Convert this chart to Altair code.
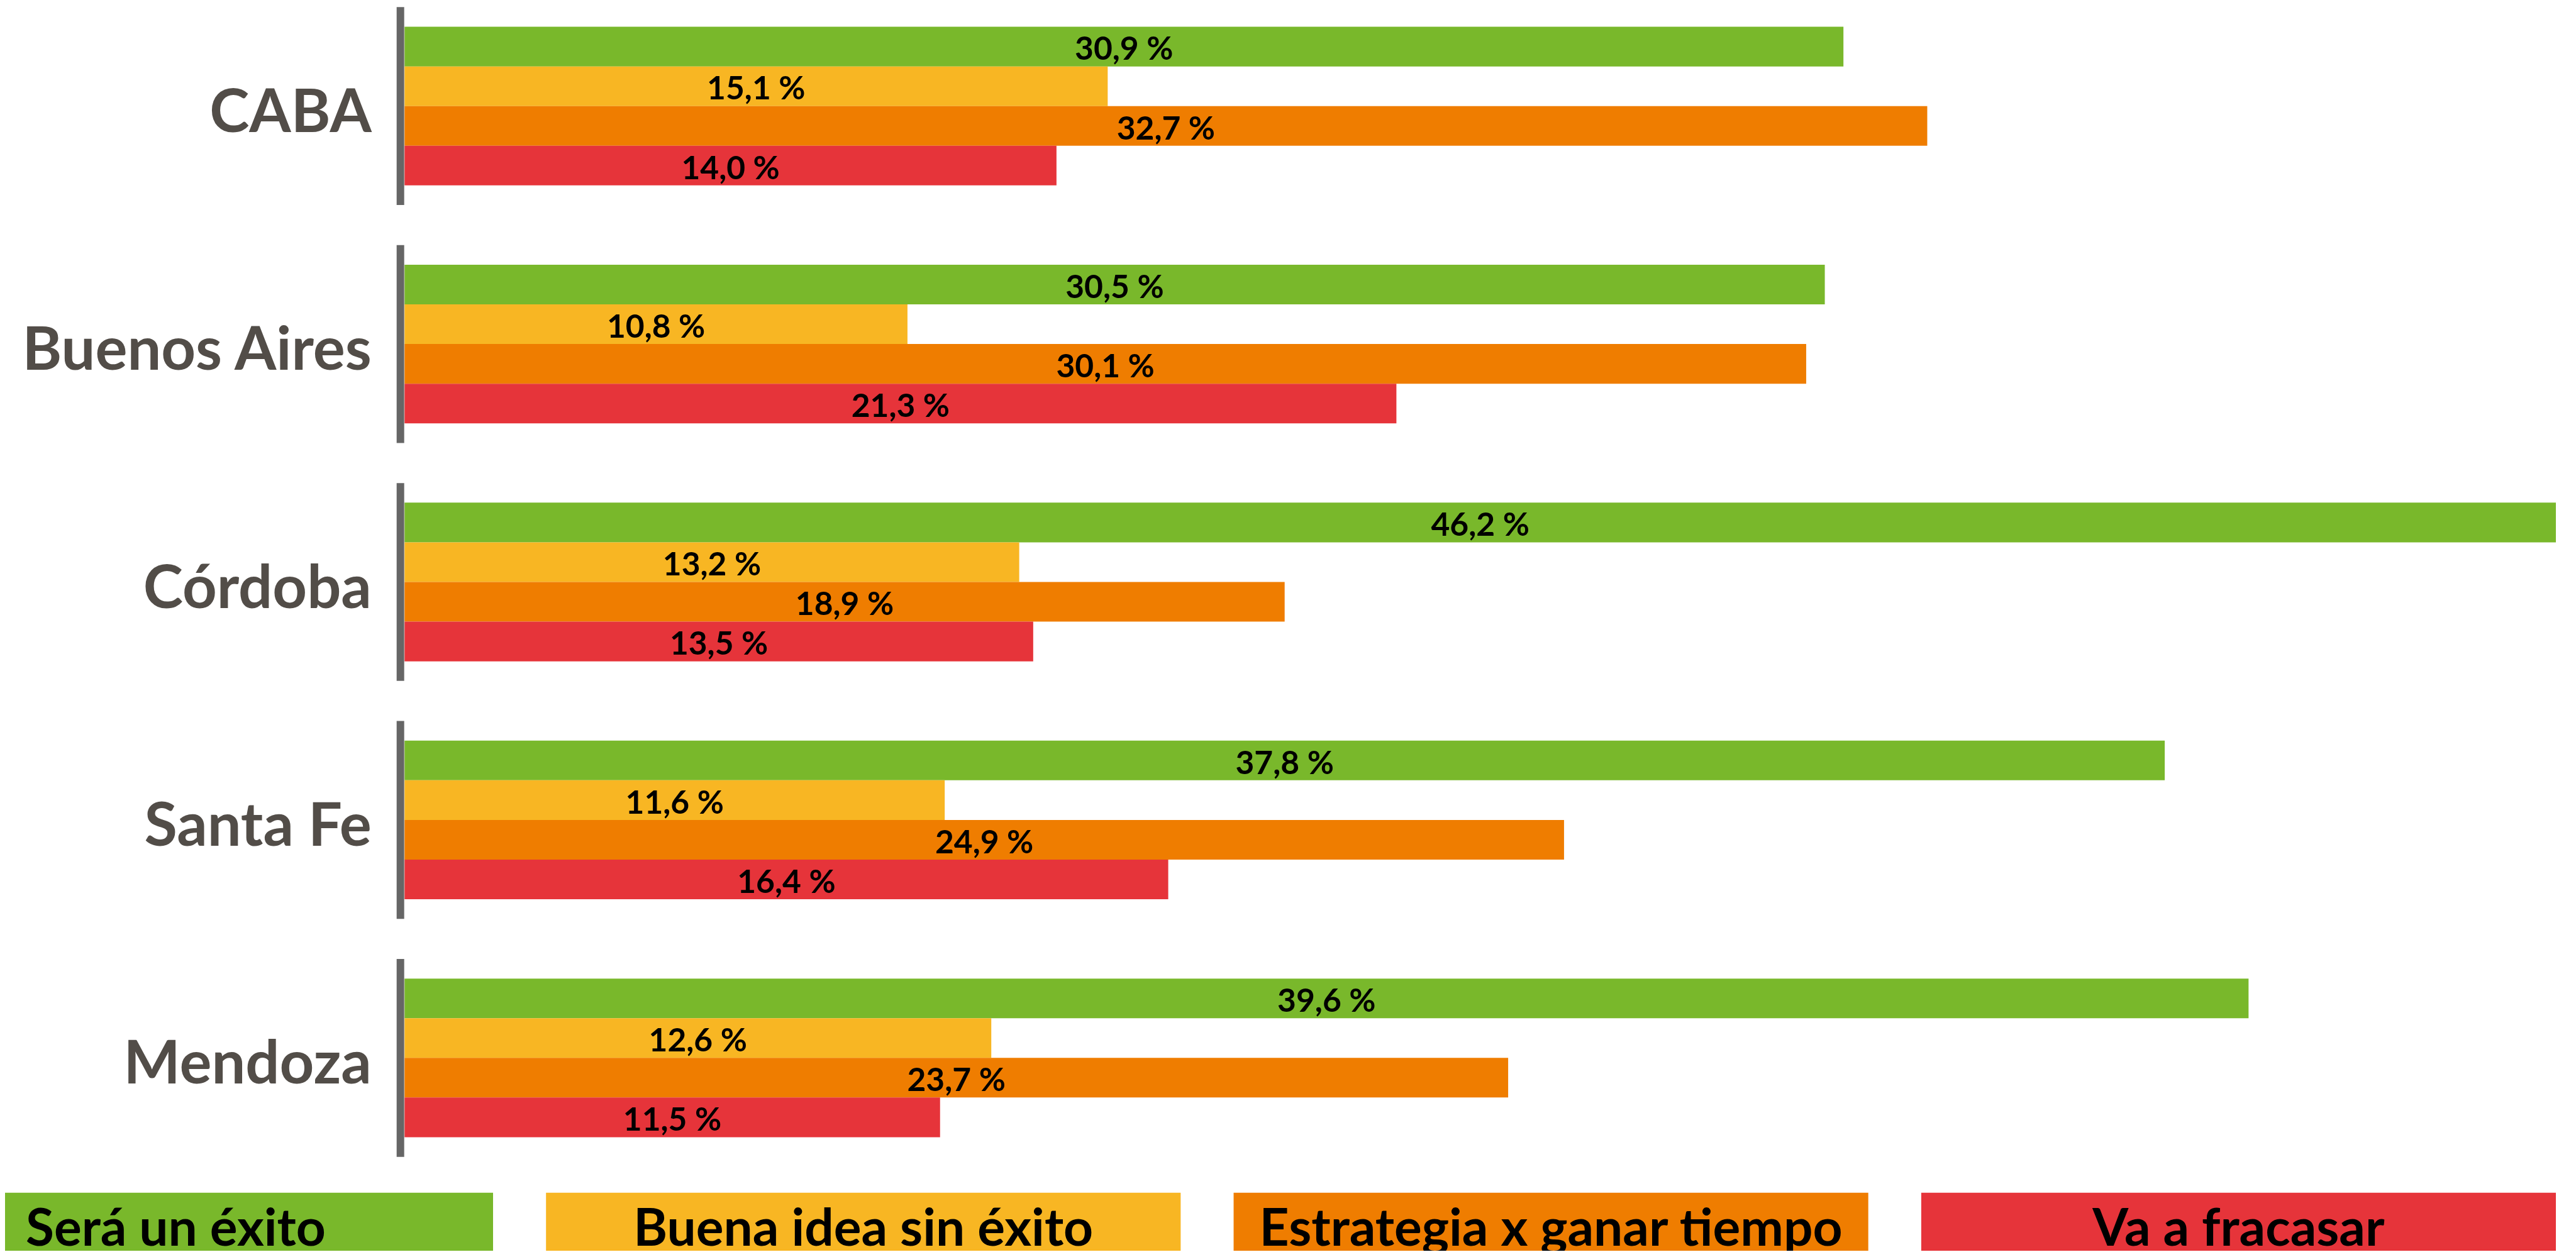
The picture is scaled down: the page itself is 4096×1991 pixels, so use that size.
import altair as alt
import pandas as pd

# ---- data ----
provincias = ["CABA", "Buenos Aires", "Córdoba", "Santa Fe", "Mendoza"]
series = ["Será un éxito", "Buena idea sin éxito", "Estrategia x ganar tiempo", "Va a fracasar"]
colores = ["#79B82B", "#F8B623", "#EF7D00", "#E6343A"]
exito = [30.9, 30.5, 46.2, 37.8, 39.6]
buena_idea = [15.1, 10.8, 13.2, 11.6, 12.6]
estrategia = [32.7, 30.1, 18.9, 24.9, 23.7]
fracasar = [14.0, 21.3, 13.5, 16.4, 11.5]

valores = [exito, buena_idea, estrategia, fracasar]
rows = []
for s, vals in zip(series, valores):
    for p, v in zip(provincias, vals):
        rows.append({"Provincia": p, "Serie": s, "Valor": v,
                     "Etiqueta": f"{v:.1f}".replace(".", ",") + " %"})
df = pd.DataFrame(rows)
df_prov = pd.DataFrame({"Provincia": provincias})
df_leg = pd.DataFrame({"Serie": series, "fila": ["leyenda"] * len(series)})

# ---- geometry (reference px * S) ----
S = 0.946
M = 8
L = 680 * S - M
T = 45 * S - M
W = (4296 - 680) * S
step = 400 * S
H = step * (5 - 1 / 3)
total_w = 4076
total_h = 1981
pad = {"left": L, "top": T, "right": total_w - L - W, "bottom": total_h - T - H}

FONT = "Lato"

xscale = alt.Scale(domain=[0, 46.2], nice=False, zero=True)
yscale = alt.Scale(domain=provincias, paddingInner=1 / 3, paddingOuter=0)
yaxis = alt.Axis(title=None, domain=False, ticks=False, tickSize=0, grid=False,
                 labelPadding=(680 - 624) * S, labelFont=FONT,
                 labelFontWeight="bold", labelFontSize=95.5,
                 labelColor="#524D48", labelBaseline="alphabetic",
                 labelOffset=41, labelLimit=2000)
color = alt.Color("Serie:N", scale=alt.Scale(domain=series, range=colores), legend=None)
yoff = alt.YOffset("Serie:N", sort=series,
                   scale=alt.Scale(domain=series, paddingInner=0, paddingOuter=0))

bars = alt.Chart(df).mark_bar().encode(
    x=alt.X("Valor:Q", scale=xscale, axis=None),
    y=alt.Y("Provincia:N", sort=provincias, scale=yscale, axis=yaxis),
    yOffset=yoff,
    color=color,
)

texts = alt.Chart(df).transform_calculate(mitad="datum.Valor / 2").mark_text(
    font=FONT, fontWeight="bold", fontSize=51.5, color="#000000",
    baseline="alphabetic", align="center", dy=21.3,
).encode(
    x=alt.X("mitad:Q", scale=xscale, axis=None),
    y=alt.Y("Provincia:N", sort=provincias, scale=yscale, axis=yaxis),
    yOffset=yoff,
    text="Etiqueta:N",
)

lines = alt.Chart(df_prov).mark_rule(
    color="#666666", strokeWidth=12, xOffset=-6.6,
    yOffset=-33 * S, y2Offset=33 * S,
).encode(
    x=alt.datum(0),
    y=alt.Y("Provincia:N", sort=provincias, scale=yscale, axis=yaxis, bandPosition=0),
    y2=alt.Y2("Provincia:N", bandPosition=1),
)

main = alt.layer(bars, texts, lines)

# ---- legend row ----
xleg = alt.X("Serie:N", sort=series,
             scale=alt.Scale(domain=series, range=[S * (-238 - 680), S * (4296 - 680)],
                             paddingInner=0.077, paddingOuter=0),
             axis=None)
y_top = S * (2005 - 45)
y_base = S * (2094 - 45)
yleg = alt.Y("fila:N", scale=alt.Scale(domain=["leyenda"], range=[y_top, 2 * y_base - y_top],
                                       paddingInner=0, paddingOuter=0), axis=None)

leg_rect = alt.Chart(df_leg).mark_rect().encode(x=xleg, y=yleg, color=color)
leg_text = alt.Chart(df_leg).mark_text(
    font=FONT, fontWeight="bold", fontSize=82, color="#000000",
    baseline="alphabetic", align="center",
).encode(x=xleg, y=yleg, text="Serie:N")
legend = alt.layer(leg_rect, leg_text)

chart = alt.layer(main, legend).resolve_scale(
    x="independent", y="independent"
).properties(
    width=W, height=H, padding=pad,
    autosize=alt.AutoSizeParams(type="none"),
    background="#FFFFFF",
).configure_view(stroke=None)

chart.save("out.html", embed_options={"renderer": "svg", "actions": False})
